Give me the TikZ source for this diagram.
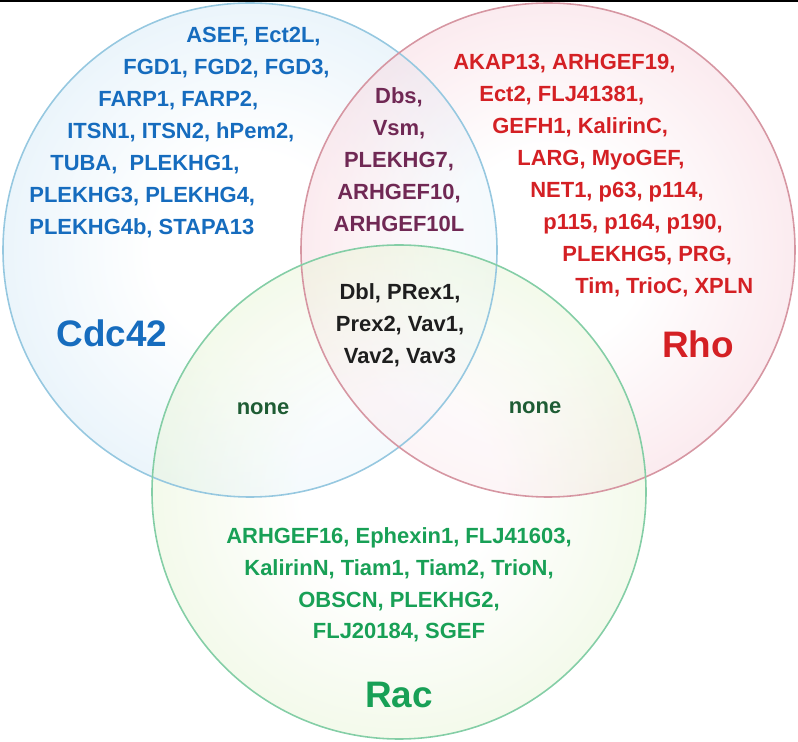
\documentclass[tikz,border=0pt]{standalone}
\usepackage{fontspec}
\setmainfont{Liberation Sans}
\usepackage{xcolor}
\usetikzlibrary{positioning}
\definecolor{cdctext}{RGB}{22,108,190}
\definecolor{rhotext}{RGB}{212,32,36}
\definecolor{ractext}{RGB}{24,160,86}
\definecolor{lenstext}{RGB}{112,40,84}
\definecolor{coretext}{RGB}{30,30,30}
\definecolor{nonetext}{RGB}{30,92,52}
\definecolor{cdcline}{RGB}{150,200,224}
\definecolor{rholine}{RGB}{214,150,162}
\definecolor{racline}{RGB}{132,206,166}
\definecolor{cdcfill}{RGB}{150,202,236}
\definecolor{rhofill}{RGB}{236,150,172}
\definecolor{racfill}{RGB}{196,228,150}
\pgfdeclareradialshading{cdcglow}{\pgfpoint{0bp}{0bp}}{color(0bp)=(white); color(10bp)=(white); color(50bp)=(cdcfill)}
\pgfdeclareradialshading{rhoglow}{\pgfpoint{0bp}{0bp}}{color(0bp)=(white); color(10bp)=(white); color(50bp)=(rhofill)}
\pgfdeclareradialshading{racglow}{\pgfpoint{0bp}{0bp}}{color(0bp)=(white); color(10bp)=(white); color(50bp)=(racfill)}
\tikzset{genelist/.style={font=\bfseries\fontsize{12.5}{15}\selectfont,inner sep=0pt,text height=8.95pt,text depth=0pt},
  familylabel/.style={font=\bfseries\fontsize{21}{25}\selectfont,inner sep=0pt},
  vennedge/.style={line width=0.9pt}}

\begin{document}
\begin{tikzpicture}[x=0.02cm,y=-0.02cm]
    \useasboundingbox (0,0) rectangle (798,742);
    \draw[line width=1.2pt] (0,0.6) -- (798,0.6);

    % the three sets
    \shade[shading=cdcglow,fill opacity=0.5] (250,250) circle[radius=247];
    \shade[shading=rhoglow,fill opacity=0.5] (548,250) circle[radius=247];
    \shade[shading=racglow,fill opacity=0.5] (399,492) circle[radius=247];
    \draw[vennedge,cdcline] (250,250) circle[radius=247];
    \draw[vennedge,rholine] (548,250) circle[radius=247];
    \draw[vennedge,racline] (399,492) circle[radius=247];

    % Cdc42 only
    \foreach \idx/\xl/\yl/\genes in {1/186/35/{ASEF, Ect2L,},2/123/67/{FGD1, FGD2, FGD3,},
      3/98/99/{FARP1, FARP2,},4/67/131/{ITSN1, ITSN2, hPem2,},5/50/163/{TUBA,~ PLEKHG1,},
      6/29/195/{PLEKHG3, PLEKHG4,},7/29/227/{PLEKHG4b, STAPA13}} {
      \node[genelist,cdctext,anchor=west] (cdc\idx) at (\xl,\yl) {\genes};
    }

    % Rho only
    \foreach \idx/\xl/\yl/\genes in {1/453/62/{AKAP13, ARHGEF19,},2/479/94/{Ect2, FLJ41381,},
      3/492/126/{GEFH1, KalirinC,},4/517/158/{LARG, MyoGEF,},5/530/190/{NET1, p63, p114,},
      6/543/222/{p115, p164, p190,},7/562/254/{PLEKHG5, PRG,},8/575/286/{Tim, TrioC, XPLN}} {
      \node[genelist,rhotext,anchor=west] (rho\idx) at (\xl,\yl) {\genes};
    }

    % Cdc42 and Rho
    \foreach \idx/\yl/\genes in {1/96/{Dbs,},2/128/{Vsm,},3/160/{PLEKHG7,},4/192/{ARHGEF10,},5/224/{ARHGEF10L}} {
      \node[genelist,lenstext] (lens\idx) at (399,\yl) {\genes};
    }

    % all three
    \foreach \idx/\yl/\genes in {1/292/{Dbl, PRex1,},2/324/{Prex2, Vav1,},3/356/{Vav2, Vav3}} {
      \node[genelist,coretext] (core\idx) at (400,\yl) {\genes};
    }

    % Rac only
    \foreach \idx/\yl/\genes in {1/536/{ARHGEF16, Ephexin1, FLJ41603,},2/568/{KalirinN, Tiam1, Tiam2, TrioN,},
      3/600/{OBSCN, PLEKHG2,},4/631/{FLJ20184, SGEF}} {
      \node[genelist,ractext] (rac\idx) at (399,\yl) {\genes};
    }

    \node[genelist,nonetext] (cdcrac) at (263,407) {none};
    \node[genelist,nonetext] (rhorac) at (535,406) {none};

    \node[familylabel,cdctext] (cdclabel) at (112,333) {Cdc42};
    \node[familylabel,rhotext] (rholabel) at (698,344) {Rho};
    \node[familylabel,ractext] (raclabel) at (399,695) {Rac};
  \end{tikzpicture}
\end{document}
